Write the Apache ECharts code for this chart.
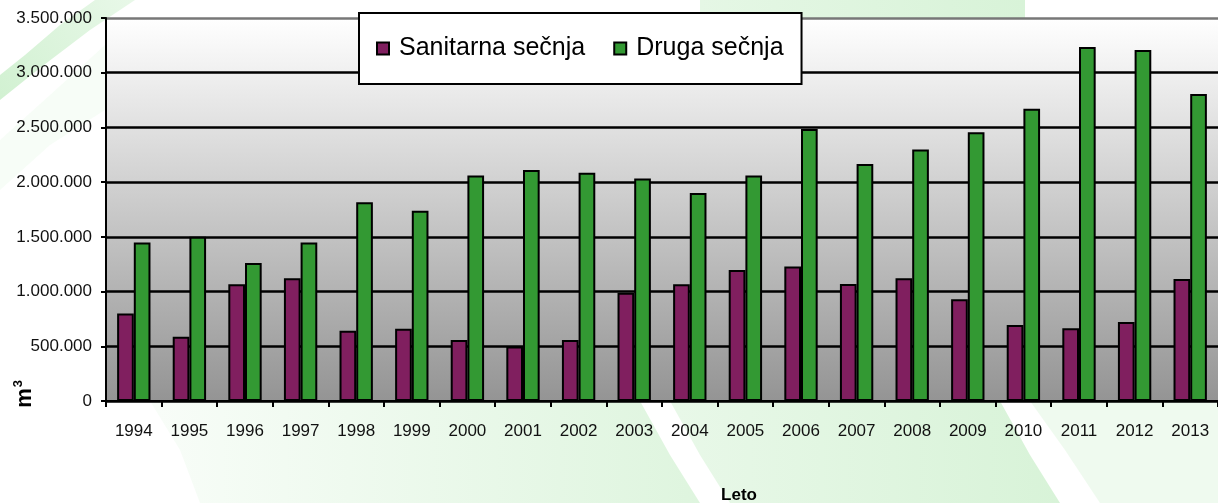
<!DOCTYPE html>
<html>
<head>
<meta charset="utf-8">
<script src="https://cdn.jsdelivr.net/npm/echarts@6/dist/echarts.min.js"></script>
<style>
html,body{margin:0;padding:0;background:#fff;}
#c{width:1218px;height:503px;}
</style>
</head>
<body>
<div id="c"></div>
<script>
var categories = ['1994','1995','1996','1997','1998','1999','2000','2001','2002','2003','2004','2005','2006','2007','2008','2009','2010','2011','2012','2013'];
var sanitarna = [800000, 588000, 1067000, 1122000, 643000, 660000, 558000, 497000, 558000, 990000, 1067000, 1198000, 1228000, 1070000, 1122000, 930000, 695000, 665000, 722000, 1116000];
var druga = [1448000, 1500000, 1260000, 1448000, 1817000, 1738000, 2060000, 2110000, 2085000, 2033000, 1900000, 2060000, 2485000, 2165000, 2298000, 2457000, 2670000, 3235000, 3207000, 2805000];
var seriesNames = ['Sanitarna sečnja', 'Druga sečnja'];
var yMax = 3500000, yStep = 500000;

function fmt(v){
  return String(v).replace(/\B(?=(\d{3})+(?!\d))/g, '.');
}

var chart = echarts.init(document.getElementById('c'), null, {renderer:'canvas'});
var FONT = '"Liberation Sans", Arial, sans-serif';
function green(a){ return 'rgba(190,235,190,' + a + ')'; }
function lin(x, y, x2, y2, c1, c2){
  return new echarts.graphic.LinearGradient(x, y, x2, y2, [{offset:0,color:c1},{offset:1,color:c2}]);
}

var option = {
  backgroundColor: '#ffffff',
  animation: false,
  textStyle: {fontFamily: FONT},
  graphic: [
    {type:'polygon', z:-10, silent:true, shape:{points:[[0,100],[40,68],[90,30],[135,0],[95,0],[60,25],[25,55],[0,75]]},
      style:{fill: lin(0,1,1,0, green(0.7), green(0.35))}},
    {type:'polygon', z:-10, silent:true, shape:{points:[[0,140],[50,95],[105,45],[105,110],[50,145],[0,190]]},
      style:{fill: green(0.12)}},
    {type:'polygon', z:-10, silent:true, shape:{points:[[700,0],[1025,0],[1025,18],[700,18]]},
      style:{fill: lin(0,0,1,0, green(0.4), green(0.6))}},
    {type:'polygon', z:-10, silent:true, shape:{points:[[150,401],[640,401],[670,455],[700,503],[200,503],[180,450]]},
      style:{fill: lin(0,0,1,0, green(0.1), green(0.5))}},
    {type:'polygon', z:-10, silent:true, shape:{points:[[670,401],[1000,401],[1030,455],[1060,503],[730,503],[700,455]]},
      style:{fill: lin(0,0,1,0, green(0.35), green(0.6))}},
    {type:'polygon', z:-10, silent:true, shape:{points:[[1030,401],[1218,401],[1218,503],[1100,503],[1065,450]]},
      style:{fill: green(0.25)}},
    {type:'text', left:12, top:380, rotation: Math.PI/2, silent:true,
      style:{text:'{m|m}{s|3}', rich:{m:{fontSize:22,fontWeight:'bold',fontFamily:FONT,fill:'#000'}, s:{fontSize:13,fontWeight:'bold',fontFamily:FONT,fill:'#000',verticalAlign:'top', padding:[0,0,12,1]}}}},
    {type:'text', x:739, y:495, silent:true,
      style:{text:'Leto', fontSize:17, fontWeight:'bold', fontFamily:FONT, fill:'#000', align:'center', verticalAlign:'middle'}}
  ],
  legend: {
    left: 359, top: 13,
    padding: [23, 18, 23, 17],
    backgroundColor: '#ffffff',
    borderColor: '#000',
    borderWidth: 2,
    itemWidth: 12, itemHeight: 12,
    itemGap: 28,
    icon: 'rect',
    textStyle: {fontSize: 25, fontFamily: FONT, color: '#000', padding:[0,0,0,5]},
    data: seriesNames
  },
  grid: {
    left: 106, top: 18, right: 0, bottom: 102,
    show: true, borderWidth: 0,
    backgroundColor: lin(0,0,0,1,'#ffffff','#949494')
  },
  xAxis: {
    type: 'category',
    data: categories,
    axisLine: {lineStyle:{color:'#000', width:2}},
    axisTick: {show:true, length:6, lineStyle:{color:'#000', width:2}},
    axisLabel: {fontSize:17, color:'#111', margin:22, fontFamily:FONT, interval:0}
  },
  yAxis: {
    type: 'value',
    min: 0, max: yMax, interval: yStep,
    axisLine: {show:true, lineStyle:{color:'#000', width:2}},
    axisTick: {show:true, length:5, lineStyle:{color:'#000', width:2}},
    axisLabel: {fontSize:17, color:'#111', margin:14, fontFamily:FONT, formatter: fmt},
    splitLine: {show:true, lineStyle:{color:['#000','#000','#000','#000','#000','#000','#000','#777'], width:2.5}}
  },
  series: [
    {name: seriesNames[0], type:'bar', data: sanitarna, barGap:'0%', barCategoryGap:'40%',
      itemStyle:{color:'#801f5f', borderColor:'#000', borderWidth:2}},
    {name: seriesNames[1], type:'bar', data: druga, barGap:'0%', barCategoryGap:'40%',
      itemStyle:{color:'#339933', borderColor:'#000', borderWidth:2}}
  ]
};
chart.setOption(option);
</script>
</body>
</html>
